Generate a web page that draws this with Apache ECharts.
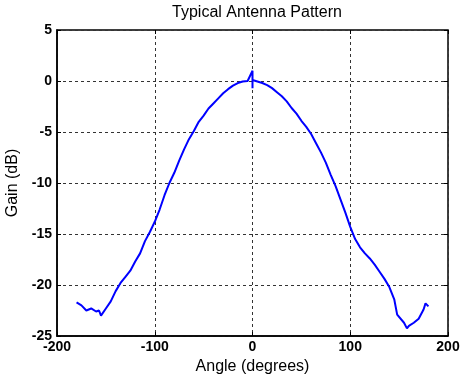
<!DOCTYPE html>
<html>
<head>
<meta charset="utf-8">
<script src="https://cdn.jsdelivr.net/npm/echarts@6/dist/echarts.min.js"></script>
<style>
html, body { margin: 0; padding: 0; background: #fff; }
#main { width: 462px; height: 385px; }
</style>
</head>
<body>
<div id="main"></div>
<script>
// angle (degrees) and gain (dB)
var angles = [-180, -175, -170, -165, -160, -157, -155, -150, -145, -140, -135, -130, -125, -120, -115, -110, -105, -100, -95, -90, -85, -80, -75, -70, -65, -60, -55, -50, -45, -40, -35, -30, -25, -20, -15, -10, -5, 0, 0, 0,
    5, 10, 15, 20, 25, 30, 35, 40, 45, 50, 55, 60, 65, 70, 75, 80, 85, 90, 95, 100, 105, 110, 115, 120, 125, 130, 135, 140, 145, 148, 150, 155, 158, 160, 165, 170, 175, 177, 180];
var gains = [-21.7, -22.0, -22.5, -22.3, -22.6, -22.5, -23.0, -22.3, -21.6, -20.6, -19.8, -19.2, -18.6, -17.7, -16.9, -15.7, -14.8, -13.8, -12.6, -11.2, -10.0, -9.0, -7.8, -6.7, -5.7, -4.9, -4.0, -3.4, -2.7, -2.2, -1.7, -1.2, -0.8, -0.45, -0.2, -0.05, 0.0, 1.0, -0.7, 0.1,
    -0.05, -0.2, -0.4, -0.7, -1.1, -1.5, -2.0, -2.65, -3.2, -3.9, -4.5, -5.2, -6.1, -7.0, -8.0, -9.2, -10.3, -11.6, -12.9, -14.3, -15.5, -16.3, -16.9, -17.4, -18.0, -18.7, -19.4, -20.2, -21.4, -22.9, -23.0, -23.7, -24.25, -24.0, -23.7, -23.3, -22.4, -21.8, -22.1];

var pts = [];
for (var i = 0; i < angles.length; i++) {
    pts.push([angles[i], gains[i]]);
}

var font = 'Liberation Sans, Arial, sans-serif';
var gridLine = { show: true, lineStyle: { color: '#333', type: [3, 3], width: 1 } };
var tick = { show: true, inside: true, length: 4, lineStyle: { color: '#000' } };

var chart = echarts.init(document.getElementById('main'));
var option = {
    animation: false,
    title: {
        text: 'Typical Antenna Pattern',
        left: 252, top: 0, textAlign: 'center',
        textStyle: { fontFamily: font, fontSize: 16, fontWeight: 'normal', color: '#000' }
    },
    grid: {
        left: 57, right: 14, top: 30, bottom: 49,
        containLabel: false, outerBoundsMode: 'none',
        show: true, borderColor: '#000', borderWidth: 1.5, backgroundColor: '#fff'
    },
    xAxis: [{
        type: 'value', min: -200, max: 200, interval: 100,
        name: 'Angle (degrees)', nameLocation: 'middle', nameGap: 18,
        nameTextStyle: { fontFamily: font, fontSize: 16, color: '#000', verticalAlign: 'top' },
        axisLine: { show: true, onZero: false, lineStyle: { color: '#000', width: 1.5 } },
        axisTick: tick,
        axisLabel: { fontFamily: font, fontSize: 14, fontWeight: 'bold', color: '#000', margin: 4 },
        splitLine: gridLine
    }, {
        type: 'value', min: -200, max: 200, interval: 100, position: 'top',
        axisLine: { show: false, onZero: false }, axisTick: tick, axisLabel: { show: false }, splitLine: { show: false }
    }],
    yAxis: [{
        type: 'value', min: -25, max: 5, interval: 5,
        name: 'Gain (dB)', nameLocation: 'middle', nameGap: 31,
        nameTextStyle: { fontFamily: font, fontSize: 16, color: '#000' },
        axisLine: { show: true, onZero: false, lineStyle: { color: '#000', width: 1.5 } },
        axisTick: tick,
        axisLabel: { fontFamily: font, fontSize: 14, fontWeight: 'bold', color: '#000', margin: 5 },
        splitLine: gridLine
    }, {
        type: 'value', min: -25, max: 5, interval: 5, position: 'right',
        axisLine: { show: false, onZero: false }, axisTick: tick, axisLabel: { show: false }, splitLine: { show: false }
    }],
    series: [{
        type: 'line',
        data: pts,
        showSymbol: false,
        lineStyle: { color: '#0000ff', width: 2 },
        z: 5
    }]
};
chart.setOption(option);
</script>
</body>
</html>
